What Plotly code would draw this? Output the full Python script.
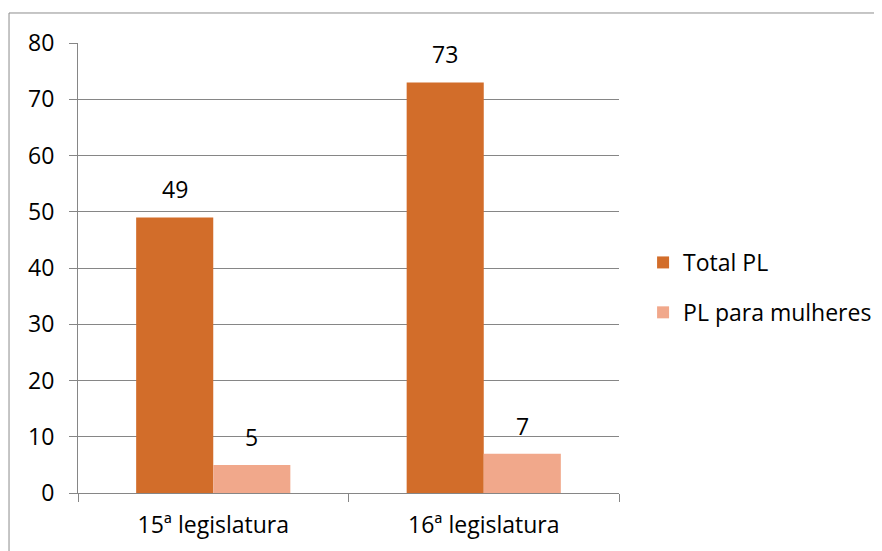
import plotly.graph_objects as go

categories = ["15ª legislatura", "16ª legislatura"]
total_pl = [49, 73]
pl_mulheres = [5, 7]

FONT = "'Open Sans', Lato, sans-serif"
FONT_SIZE = 23
AXIS_GRAY = "#868686"

fig = go.Figure()
fig.add_trace(go.Bar(
    x=categories, y=total_pl, name="Total PL",
    marker=dict(color="#D26D2A", line=dict(width=0)),
    legendgroup="a",
))
fig.add_trace(go.Bar(
    x=categories, y=pl_mulheres, name="PL para mulheres",
    marker=dict(color="#F1A88B", line=dict(width=0)),
    legendgroup="b",
))

# value labels sit well above each bar, as in the original chart
annotations = []
for series, shift in ((total_pl, -38.5), (pl_mulheres, 38.5)):
    for cat, val in zip(categories, series):
        annotations.append(dict(
            x=cat, y=val, xref="x", yref="y", xshift=shift, yshift=28,
            text=str(val), showarrow=False,
            font=dict(family=FONT, size=FONT_SIZE, color="#000000"),
        ))

# the page body adds an 8px offset, so the figure is 8px smaller than the window
fig.update_layout(
    width=874, height=543,
    margin=dict(l=70, r=263, t=35, b=58, autoexpand=False),
    paper_bgcolor="white", plot_bgcolor="white",
    barmode="group", bargap=0.43, bargroupgap=0,
    font=dict(family=FONT, size=FONT_SIZE, color="#000000"),
    showlegend=True,
    legend=dict(
        x=1.0445, xanchor="left", y=0.4567, yanchor="middle",
        font=dict(family=FONT, size=FONT_SIZE, color="#000000"),
        tracegroupgap=17, itemwidth=30,
    ),
    xaxis=dict(
        showline=True, linecolor=AXIS_GRAY, linewidth=1,
        ticks="outside", tickson="boundaries", ticklen=8, tickcolor=AXIS_GRAY,
        ticklabelstandoff=11,
        showgrid=False, fixedrange=True,
    ),
    yaxis=dict(
        range=[0, 80], dtick=10,
        showline=True, linecolor=AXIS_GRAY, linewidth=1,
        ticks="outside", ticklen=8, tickcolor=AXIS_GRAY,
        ticklabelstandoff=10,
        showgrid=True, gridcolor=AXIS_GRAY, gridwidth=1,
        zeroline=False,
    ),
    annotations=annotations,
    shapes=[dict(
        type="rect", xref="paper", yref="paper",
        x0=-0.1275, x1=1.8, y0=-0.3, y1=1.0667,
        line=dict(color="#8c8c8c", width=1), layer="below",
    )],
)

fig.write_html("out.html")
